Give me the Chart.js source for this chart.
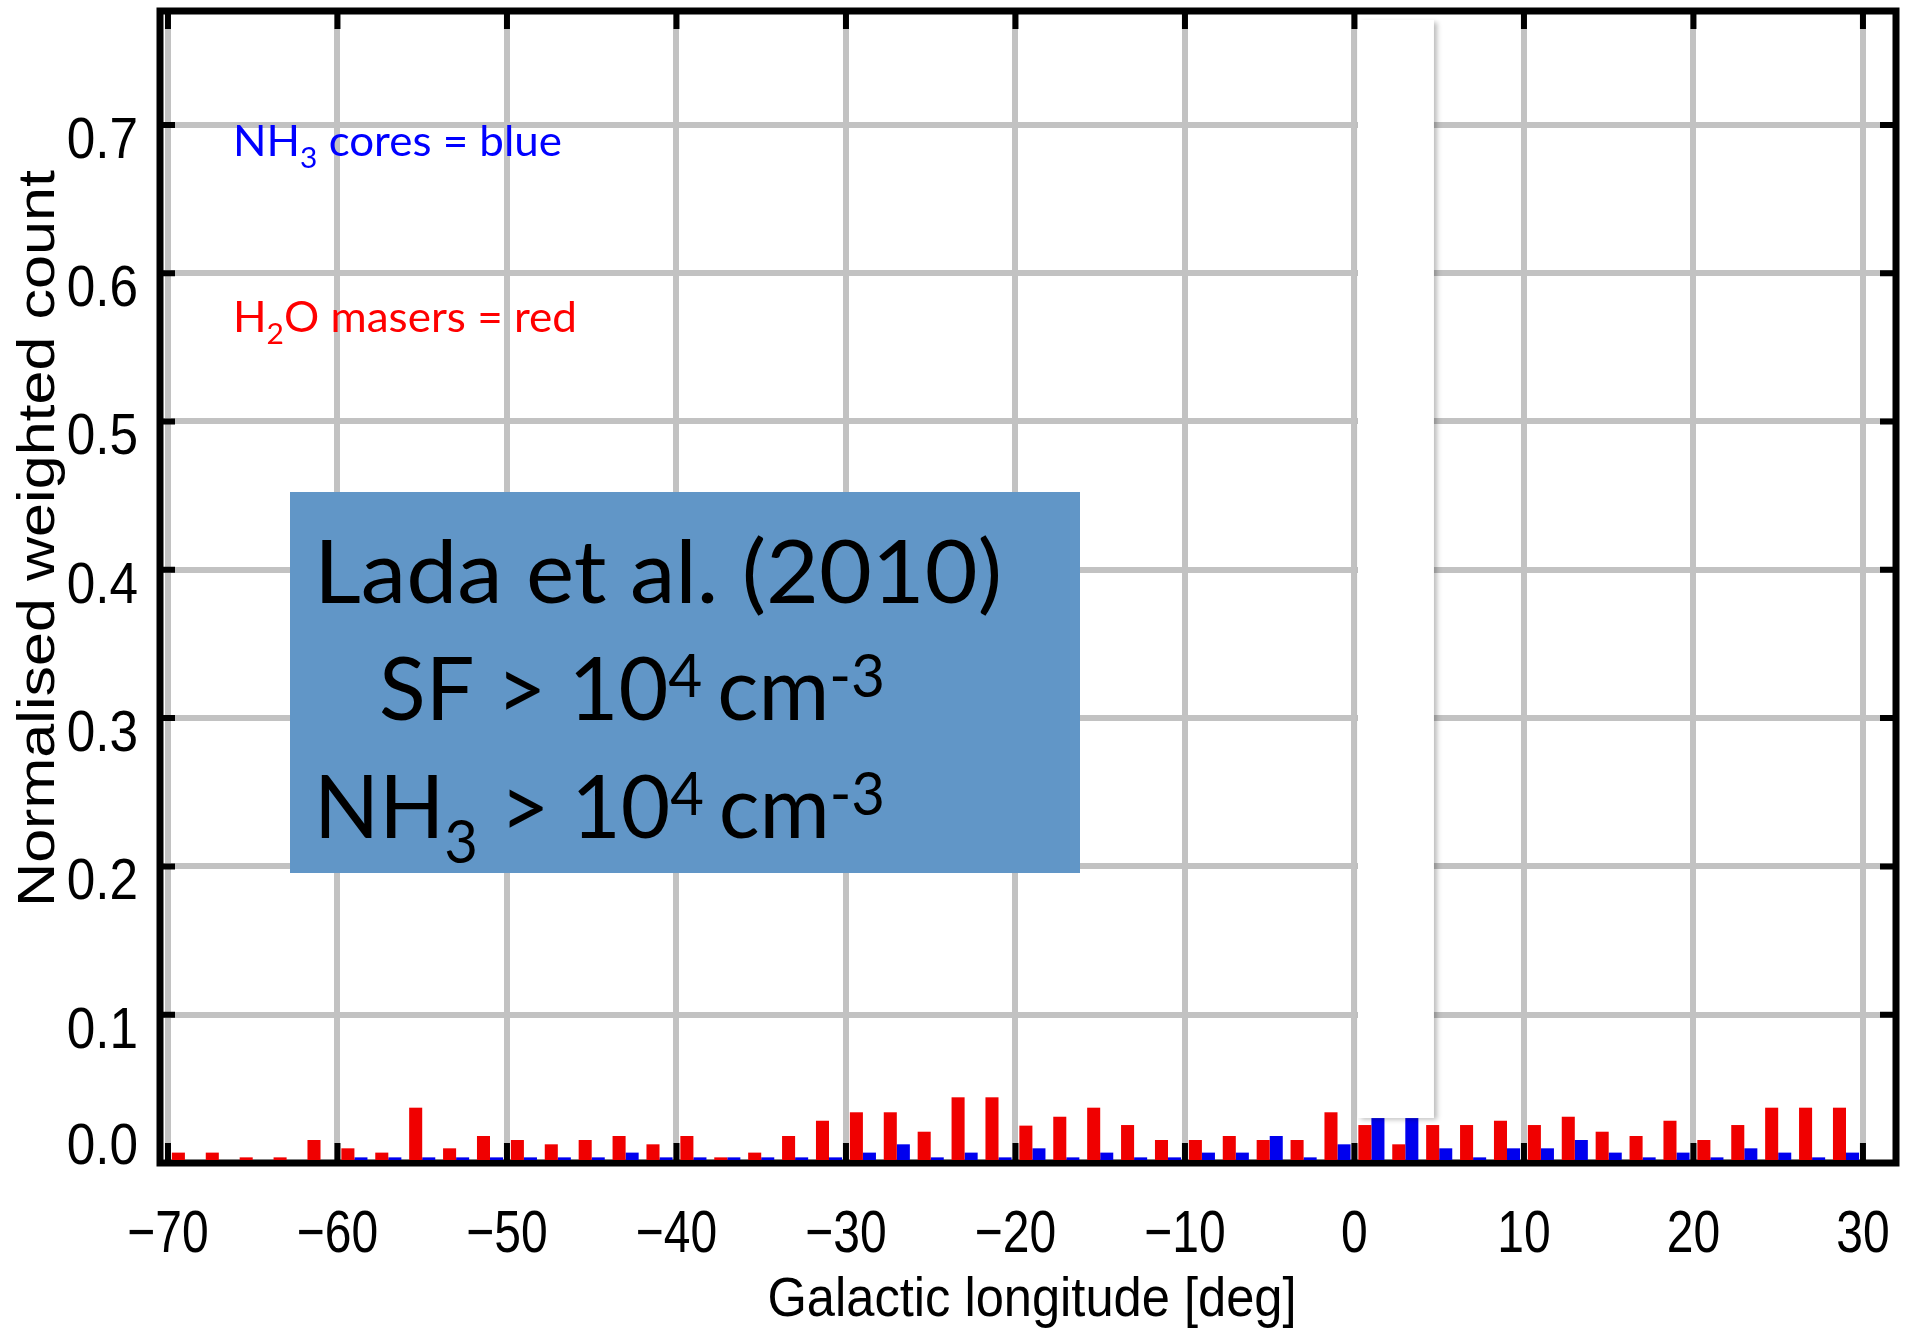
<!DOCTYPE html>
<html>
<head>
<meta charset="utf-8">
<title>Galactic longitude</title>
<script src="https://cdn.jsdelivr.net/npm/chart.js@4.4.1/dist/chart.umd.min.js"></script>
<style>
    html, body { margin: 0; padding: 0; background: #fff; }
    #contenitore { position: relative; width: 1910px; height: 1329px; }
</style>
</head>
<body>
<div id="contenitore"><canvas id="grafico"></canvas></div>
<script>
// centri dei bin (2 gradi) in longitudine galattica
var longitudini = [-69, -67, -65, -63, -61, -59, -57, -55, -53, -51,
    -49, -47, -45, -43, -41, -39, -37, -35, -33, -31,
    -29, -27, -25, -23, -21, -19, -17, -15, -13, -11,
    -9, -7, -5, -3, -1, 1, 3, 5, 7, 9,
    11, 13, 15, 17, 19, 21, 23, 25, 27, 29];

// conteggi pesati normalizzati - maser H2O (rosso)
var maserH2O = [0.0070, 0.0070, 0.0038, 0.0038, 0.0155, 0.0099, 0.0070, 0.0373, 0.0099, 0.0182,
    0.0155, 0.0126, 0.0155, 0.0182, 0.0126, 0.0182, 0.0038, 0.0070, 0.0182, 0.0285,
    0.0342, 0.0342, 0.0211, 0.0443, 0.0443, 0.0252, 0.0312, 0.0373, 0.0256, 0.0155,
    0.0155, 0.0182, 0.0155, 0.0155, 0.0342, 0.0256, 0.0126, 0.0256, 0.0256, 0.0285,
    0.0256, 0.0312, 0.0211, 0.0182, 0.0285, 0.0155, 0.0256, 0.0373, 0.0373, 0.0373];

// conteggi pesati normalizzati - core NH3 (blu)
var coreNH3 = [0, 0, 0, 0, 0, 0.0038, 0.0038, 0.0038, 0.0038, 0.0038,
    0.0038, 0.0038, 0.0038, 0.0070, 0.0038, 0.0038, 0.0038, 0.0038, 0.0038, 0.0038,
    0.0070, 0.0126, 0.0038, 0.0070, 0.0038, 0.0099, 0.0038, 0.0070, 0.0038, 0.0038,
    0.0070, 0.0070, 0.0182, 0.0038, 0.0126, 0.0310, 0.0310, 0.0099, 0.0038, 0.0099,
    0.0099, 0.0155, 0.0070, 0.0038, 0.0070, 0.0038, 0.0099, 0.0070, 0.0038, 0.0070];

var tickLongitudine = [-70, -60, -50, -40, -30, -20, -10, 0, 10, 20, 30];
var tickConteggio = [0, 0.1, 0.2, 0.3, 0.4, 0.5, 0.6, 0.7];

// testi (pezzi: testo + tipo normale / apice / pedice)
var titoloX = [['Galactic longitude [deg]', 'n']];
var titoloY = [['Normalised weighted count', 'n']];
var notaNH3 = [['NH', 'n'], ['3', 'sub'], [' cores = blue', 'n']];
var notaH2O = [['H', 'n'], ['2', 'sub'], ['O masers = red', 'n']];
var riquadroRighe = [
    [['Lada et al. (2010)', 'n']],
    [['SF > 10', 'n'], ['4 ', 'sup'], ['cm', 'n'], ['-3', 'sup']],
    [['NH', 'n'], ['3', 'sub'], [' > 10', 'n'], ['4 ', 'sup'], ['cm', 'n'], ['-3', 'sup']]
];

var fontAssi = "'Liberation Sans', Arial, sans-serif";
var fontNote = "Lato, 'Open Sans', sans-serif";

// scrive un testo con apici/pedici; la larghezza si puo' fissare (o dare la scala orizzontale)
function scriviTesto(ctx, pezzi, x, yBase, opz) {
    var dim = opz.dim;
    function fontPer(tipo) {
        return (tipo === 'n' ? dim : dim * 0.68) + 'px ' + opz.famiglia;
    }
    var naturale = 0;
    pezzi.forEach(function (p) {
        ctx.font = fontPer(p[1]);
        naturale += ctx.measureText(p[0]).width;
    });
    var sx = opz.larghezza ? opz.larghezza / naturale : (opz.sx || 1);
    var spostamento = 0;
    if (opz.allinea === 'right') spostamento = -naturale * sx;
    if (opz.allinea === 'center') spostamento = -naturale * sx / 2;
    ctx.save();
    ctx.translate(x, yBase);
    if (opz.ruota) {
        ctx.rotate(opz.ruota);
    }
    ctx.translate(spostamento, 0);
    ctx.scale(sx, 1);
    ctx.fillStyle = opz.colore;
    ctx.textAlign = 'left';
    ctx.textBaseline = 'alphabetic';
    var cursore = 0;
    pezzi.forEach(function (p) {
        ctx.font = fontPer(p[1]);
        var dy = 0;
        if (p[1] === 'sup') dy = -dim * 0.26;
        if (p[1] === 'sub') dy = dim * 0.29;
        ctx.fillText(p[0], cursore, dy);
        cursore += ctx.measureText(p[0]).width;
    });
    ctx.restore();
}

function etichettaX(v) {
    return v < 0 ? '\u2212' + Math.abs(v) : String(v);
}

function etichettaY(v) {
    return v.toFixed(1);
}

// cornice nera con tacche interne, fascia bianca, etichette e note
var cornice = {
    id: 'cornice',
    beforeDatasetsDraw: function (chart) {
        var ctx = chart.ctx;
        var a = chart.chartArea;
        var scalaX = chart.scales.x;
        var scalaY = chart.scales.y;
        ctx.save();
        ctx.strokeStyle = '#000';
        ctx.lineWidth = 7;
        ctx.strokeRect(a.left, a.top, a.right - a.left, a.bottom - a.top);
        ctx.lineWidth = 6;
        ctx.beginPath();
        tickLongitudine.forEach(function (v) {
            var px = scalaX.getPixelForValue(v);
            ctx.moveTo(px, a.bottom);
            ctx.lineTo(px, a.bottom - 20);
            ctx.moveTo(px, a.top);
            ctx.lineTo(px, a.top + 18);
        });
        tickConteggio.forEach(function (v) {
            var py = scalaY.getPixelForValue(v);
            ctx.moveTo(a.left, py);
            ctx.lineTo(a.left + 15, py);
            ctx.moveTo(a.right, py);
            ctx.lineTo(a.right - 16, py);
        });
        ctx.stroke();
        ctx.restore();
    },
    afterDatasetsDraw: function (chart) {
        // fascia bianca sopra il centro galattico
        var ctx = chart.ctx;
        var scalaX = chart.scales.x;
        var scalaY = chart.scales.y;
        var x1 = scalaX.getPixelForValue(0.21);
        var x2 = scalaX.getPixelForValue(4.69);
        var y1 = scalaY.getPixelForValue(0.7708);
        var y2 = scalaY.getPixelForValue(0.0303);
        ctx.save();
        ctx.shadowColor = 'rgba(0, 0, 0, 0.28)';
        ctx.shadowBlur = 5;
        ctx.shadowOffsetX = 3;
        ctx.shadowOffsetY = 2;
        ctx.fillStyle = '#fff';
        ctx.fillRect(x1, y1, x2 - x1, y2 - y1);
        ctx.restore();
    },
    afterDraw: function (chart) {
        var ctx = chart.ctx;
        var scalaX = chart.scales.x;
        var scalaY = chart.scales.y;
        // etichette degli assi
        tickLongitudine.forEach(function (v) {
            scriviTesto(ctx, [[etichettaX(v), 'n']], scalaX.getPixelForValue(v), 1252,
                {dim: 60, famiglia: fontAssi, colore: '#000', sx: 0.8, allinea: 'center'});
        });
        tickConteggio.forEach(function (v) {
            var py = scalaY.getPixelForValue(v);
            // lo zero sta un po' piu' in alto delle altre
            var base = v === 0 ? py + 1 : py + 33;
            scriviTesto(ctx, [[etichettaY(v), 'n']], 138, base,
                {dim: 57, famiglia: fontAssi, colore: '#000', sx: 0.9, allinea: 'right'});
        });
        // titoli degli assi
        scriviTesto(ctx, titoloX, 1032, 1316, {dim: 56, famiglia: fontAssi, colore: '#000', larghezza: 529, allinea: 'center'});
        scriviTesto(ctx, titoloY, 54, 907, {dim: 52, famiglia: fontAssi, colore: '#000', larghezza: 737, ruota: -Math.PI / 2});
        // legenda a testo
        scriviTesto(ctx, notaNH3, 233, 156, {dim: 42.5, famiglia: fontNote, colore: '#0000ff', larghezza: 329});
        scriviTesto(ctx, notaH2O, 233, 332, {dim: 42.5, famiglia: fontNote, colore: '#ff0000', larghezza: 344});
        // riquadro azzurro
        ctx.save();
        ctx.fillStyle = '#6196c7';
        ctx.fillRect(290, 492, 790, 381);
        ctx.restore();
        scriviTesto(ctx, riquadroRighe[0], 314, 603, {dim: 87, famiglia: fontNote, colore: '#000', larghezza: 688});
        scriviTesto(ctx, riquadroRighe[1], 379, 720, {dim: 87, famiglia: fontNote, colore: '#000', larghezza: 506});
        scriviTesto(ctx, riquadroRighe[2], 314, 838, {dim: 87, famiglia: fontNote, colore: '#000', larghezza: 571});
    }
};

var grafico = new Chart(document.getElementById('grafico'), {
    type: 'bar',
    data: {
        labels: longitudini,
        datasets: [{
            label: 'H2O masers',
            data: maserH2O,
            backgroundColor: '#f00000',
            borderWidth: 0,
            categoryPercentage: 0.77,
            barPercentage: 1
        }, {
            label: 'NH3 cores',
            data: coreNH3,
            backgroundColor: '#0000ee',
            borderWidth: 0,
            categoryPercentage: 0.77,
            barPercentage: 1
        }]
    },
    options: {
        responsive: true,
        maintainAspectRatio: false,
        animation: false,
        layout: {padding: {top: 11, right: 14, left: 0, bottom: 0}},
        plugins: {
            legend: {display: false},
            tooltip: {enabled: false}
        },
        scales: {
            x: {
                type: 'linear',
                min: -70.47,
                max: 31.95,
                offset: false,
                afterBuildTicks: function (scala) {
                    scala.ticks = tickLongitudine.map(function (v) { return {value: v}; });
                },
                afterFit: function (scala) {
                    scala.height = 166;
                    scala.paddingLeft = 0;
                    scala.paddingRight = 0;
                },
                ticks: {display: false},
                grid: {color: '#c2c2c2', lineWidth: 6, drawTicks: false, offset: false},
                border: {display: false}
            },
            y: {
                min: 0,
                max: 0.7768,
                afterBuildTicks: function (scala) {
                    scala.ticks = tickConteggio.map(function (v) { return {value: v}; });
                },
                afterFit: function (scala) {
                    scala.width = 160;
                    scala.paddingTop = 0;
                    scala.paddingBottom = 0;
                },
                ticks: {display: false},
                grid: {color: '#c2c2c2', lineWidth: 6, drawTicks: false},
                border: {display: false}
            }
        }
    },
    plugins: [cornice]
});
</script>
</body>
</html>
